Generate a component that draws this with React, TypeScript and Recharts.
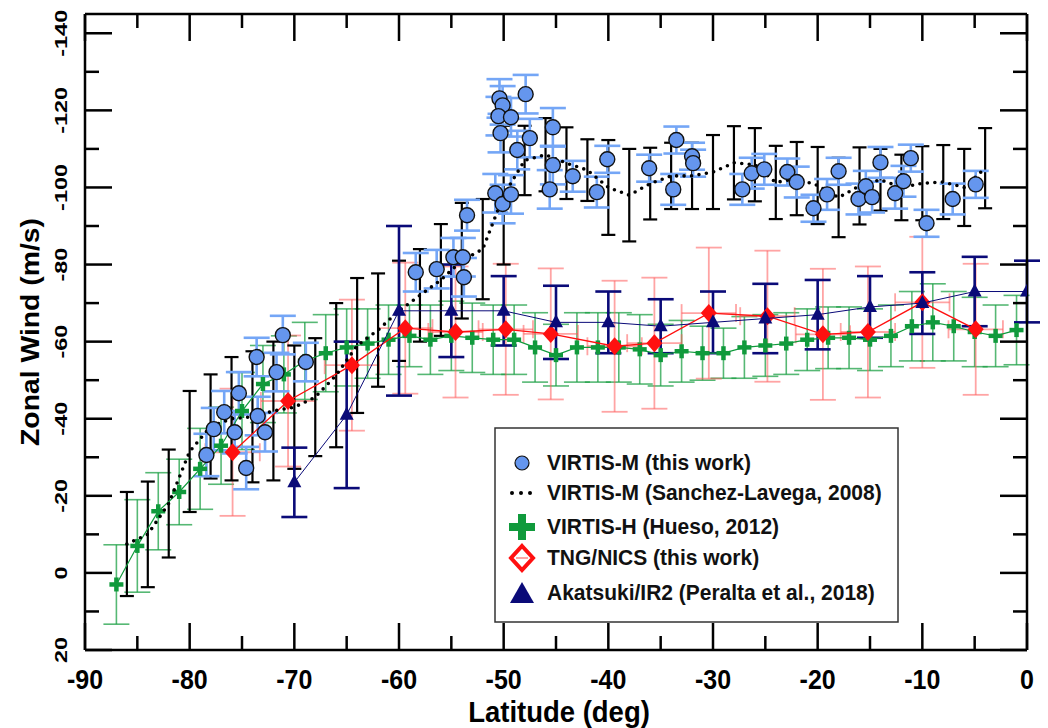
import React from "react";
import { ComposedChart, Scatter, XAxis, YAxis, ErrorBar } from "recharts";

const FONT = "'Liberation Sans', Arial, Helvetica, sans-serif";

// tick values
const latTicks = [-90, -85, -80, -75, -70, -65, -60, -55, -50, -45, -40, -35, -30, -25, -20, -15, -10, -5, 0];
const windTicks = [-140, -130, -120, -110, -100, -90, -80, -70, -60, -50, -40, -30, -20, -10, 0, 10, 20];

// VIRTIS-M (this work): [lat, wind, err]
const virtisM: [number, number, number][] = [
  [-78.4, -30.6, 5.5], [-77.7, -37.3, 5.5], [-76.7, -41.7, 5.5], [-75.3, -46.6, 5.5], [-75.7, -36.5, 5.5],
  [-74.6, -27.2, 5.5], [-73.6, -56, 5], [-73.5, -40.7, 5], [-72.8, -36.5, 5], [-71.7, -52.1, 5],
  [-71.1, -61.7, 5], [-68.9, -54.7, 5],
  [-58.4, -78, 5], [-56.4, -78.8, 5], [-54.8, -81.9, 5], [-53.9, -81.9, 5], [-53.8, -76.7, 5], [-53.5, -92.8, 4],
  [-50.8, -98.5, 5], [-50.1, -95.7, 5], [-49.3, -98.2, 5], [-50.4, -123.1, 5], [-50.1, -121.3, 5],
  [-50.5, -118.5, 5], [-49.3, -118.2, 5], [-50.3, -114.1, 5], [-47.9, -124.2, 5], [-47.5, -112.8, 5],
  [-48.7, -109.7, 5], [-45.3, -115.6, 5], [-45.3, -105.8, 5], [-45.6, -99.5, 5], [-43.4, -102.9, 4],
  [-41.1, -98.8, 4], [-40.1, -107.3, 3.5], [-36.1, -105, 3.5], [-33.8, -99.5, 4], [-33.5, -112.3, 3.5],
  [-32, -108.1, 3.5], [-31.9, -106.3, 3.5], [-27.2, -99.5, 4], [-26.3, -103.7, 4], [-25.1, -104.7, 4],
  [-22.9, -104, 3.5], [-22, -101.4, 4], [-20.4, -94.6, 3.5], [-19.1, -98.2, 4], [-18, -104.2, 3.5],
  [-16.1, -97, 4], [-15.4, -100.3, 4], [-14.8, -97.5, 4], [-14, -106.5, 4], [-12.6, -98.5, 4],
  [-11.8, -101.6, 4], [-11.1, -107.6, 3.5], [-9.6, -90.7, 3.5], [-7.1, -97, 4], [-4.9, -100.8, 3.5],
];

// VIRTIS-M (Sanchez-Lavega, 2008): [lat, wind, err]
const sanchezLavega: [number, number, number][] = [
  [-86, -7.5, 13.5], [-84, -10, 13.7], [-82, -18, 14], [-80, -31.5, 15.7], [-78, -38, 13.5],
  [-76, -40, 16], [-74, -40.5, 17], [-72, -42, 18], [-70, -43, 16], [-68, -45.6, 15.3],
  [-66, -51.3, 18.7], [-64, -59, 17.5], [-62, -63, 14.7], [-60, -68, 13], [-58, -72, 12],
  [-56, -76, 14.5], [-54, -81, 15], [-52, -84, 13], [-50, -98, 18], [-48, -107, 9],
  [-46, -108.5, 9.5], [-44, -106.3, 9.3], [-42, -104.5, 8], [-40, -100, 12.3], [-38, -98, 12],
  [-36, -101, 9.3], [-34, -103, 8.6], [-32, -103, 8.6], [-30, -104, 9.6], [-28, -106.4, 9.5],
  [-26, -105.9, 9.5], [-24, -101.3, 9.5], [-22, -102.3, 9.5], [-20, -100.5, 10], [-18, -97.4, 10.3],
  [-16, -100.4, 10], [-14, -102, 8], [-12, -100, 8.5], [-10, -101.1, 9.6], [-8, -101.4, 9.6],
  [-6, -100, 10], [-4, -105, 10.4],
];

// VIRTIS-H (Hueso, 2012): [lat, wind, err]
const hueso: [number, number, number][] = [
  [-87, 3, 10.3], [-85, -7, 12], [-83, -16, 10], [-81, -21, 8.5], [-79, -27, 10.5], [-77, -33, 10],
  [-75, -42, 10], [-73, -49, 10], [-71, -51.5, 10], [-69, -55, 10], [-67, -57, 10], [-65, -58.5, 10],
  [-63, -59.5, 9], [-61, -60.5, 9], [-59, -61.5, 8], [-57, -60.5, 9], [-55, -61.5, 9], [-53, -61, 9],
  [-51, -60.5, 9], [-49, -60.5, 9], [-47, -58.5, 9], [-45, -56.5, 8], [-43, -58.5, 9], [-41, -58.5, 9],
  [-39, -58.5, 9], [-37, -58, 9], [-35, -56.5, 8], [-33, -57.5, 8], [-31, -57, 7], [-29, -57, 6.5],
  [-27, -58.5, 8], [-25, -59, 8], [-23, -59.5, 8], [-21, -60.5, 8], [-19, -61, 8], [-17, -61, 8],
  [-15, -60.5, 8], [-13, -61.5, 8], [-11, -64, 9], [-9, -65, 10], [-7, -64, 9], [-5, -62.5, 9],
  [-3, -61.5, 8], [-1, -63, 9],
];

// TNG/NICS (this work): [lat, wind, windErr, latErr]
const tngNics: [number, number, number, number][] = [
  [-75.9, -31.3, 16.5, 2.6], [-70.6, -44.6, 17, 2.6], [-64.5, -53.9, 17, 2.6], [-59.4, -63.5, 17, 2.6],
  [-54.6, -62.5, 17, 2.6], [-49.8, -63.2, 17, 2.6], [-45.5, -62, 17, 2.6], [-39.4, -58.8, 17, 2.6],
  [-35.6, -59.6, 17, 2.6], [-30.4, -67.4, 17, 2.6], [-24.8, -66.6, 17, 2.6], [-19.5, -61.9, 17, 2.6],
  [-15.2, -62.5, 17, 2.6], [-10, -70.2, 17, 2.6], [-4.9, -63.2, 17, 2.6],
];

// Akatsuki/IR2 (Peralta et al., 2018): [lat, wind, err]
const akatsuki: [number, number, number][] = [
  [-70, -23.5, 9], [-65, -41, 19], [-60, -68, 22], [-55, -68, 12], [-50, -68, 9], [-45, -65, 9.5],
  [-40, -65, 8], [-35, -64, 7], [-30, -65, 8], [-25, -66, 9], [-20, -67, 9], [-15, -69, 8],
  [-10, -70, 8], [-5, -73, 9], [0, -73, 8],
];

const legendNames = [
  "VIRTIS-M (this work)",
  "VIRTIS-M (Sanchez-Lavega, 2008)",
  "VIRTIS-H (Hueso, 2012)",
  "TNG/NICS (this work)",
  "Akatsuki/IR2 (Peralta et al., 2018)",
];

const BLUE = "#6596ee";
const BLUE_BAR = "#74a6f6";
const GREEN = "#109a3c";
const GREEN_BAR = "rgba(30,160,70,0.75)";
const RED = "#ff1010";
const RED_BAR = "rgba(255,90,90,0.55)";
const NAVY = "#0a0a78";

const toRows = (arr: [number, number, number][]) => arr.map(([lat, wind, err]) => ({ lat, wind, err }));
const virtisMData = toRows(virtisM);
const sanchezData = toRows(sanchezLavega);
const huesoData = toRows(hueso);
const akatsukiData = toRows(akatsuki);
const tngData = tngNics.map(([lat, wind, err, xerr]) => ({ lat, wind, err, xerr }));

const BlueDot = (p: any) => <circle cx={p.cx} cy={p.cy} r={7.5} fill={BLUE} stroke="#111" strokeWidth={1.4} />;
const GreenPlus = (p: any) => (
  <g stroke={GREEN} strokeWidth={4.5}>
    <line x1={p.cx - 7} y1={p.cy} x2={p.cx + 7} y2={p.cy} />
    <line x1={p.cx} y1={p.cy - 7} x2={p.cx} y2={p.cy + 7} />
  </g>
);
const RedDiamond = (p: any) => (
  <polygon
    points={`${p.cx},${p.cy - 9} ${p.cx + 8},${p.cy} ${p.cx},${p.cy + 9} ${p.cx - 8},${p.cy}`}
    fill={RED}
  />
);
const NavyTriangle = (p: any) => (
  <polygon points={`${p.cx},${p.cy - 8} ${p.cx + 7},${p.cy + 5} ${p.cx - 7},${p.cy + 5}`} fill={NAVY} />
);
const NoDot = () => <g />;

const MAJOR = 27;
const MINOR = 14;

function makeTick(side: "bottom" | "top" | "left" | "right") {
  return (props: any) => {
    const { x, y, payload } = props;
    const v = payload.value;
    const horizontal = side === "bottom" || side === "top";
    const major = horizontal ? v % 10 === 0 : v % 20 === 0;
    const len = major ? MAJOR : MINOR;
    let line;
    if (side === "bottom") line = <line x1={x} y1={y} x2={x} y2={y - len} />;
    else if (side === "top") line = <line x1={x} y1={y} x2={x} y2={y + len} />;
    else if (side === "left") line = <line x1={x} y1={y} x2={x + len} y2={y} />;
    else line = <line x1={x} y1={y} x2={x - len} y2={y} />;
    return (
      <g>
        <g stroke="#000" strokeWidth={2.5}>{line}</g>
        {major && side === "bottom" && (
          <text
            transform={`translate(${x},${y + 39}) scale(1,1.1)`}
            textAnchor="middle"
            fontFamily={FONT}
            fontWeight="bold"
            fontSize={25}
            fill="#000"
          >
            {v}
          </text>
        )}
        {major && side === "left" && (
          <text
            transform={`translate(${x - 18},${y}) scale(1,1.38) rotate(-90)`}
            textAnchor="middle"
            fontFamily={FONT}
            fontWeight="bold"
            fontSize={17}
            fill="#000"
          >
            {v}
          </text>
        )}
      </g>
    );
  };
}

const axisLine = { stroke: "#000", strokeWidth: 2.5 };

export default function App() {
  const rowY = [463, 493, 527, 558, 593];
  return (
    <div style={{ position: "absolute", left: 0, top: 0, width: 1048, height: 728, background: "#fff" }}>
      <ComposedChart width={1048} height={728} margin={{ top: 13, right: 20, bottom: 77, left: 84 }}>
        <XAxis
          xAxisId="bottom"
          dataKey="lat"
          type="number"
          domain={[-90, 0]}
          ticks={latTicks}
          interval={0}
          allowDataOverflow
          height={1}
          tickSize={0}
          tickMargin={0}
          tickLine={false}
          axisLine={axisLine}
          tick={makeTick("bottom")}
        />
        <XAxis
          xAxisId="top"
          orientation="top"
          dataKey="lat"
          type="number"
          domain={[-90, 0]}
          ticks={latTicks}
          interval={0}
          allowDataOverflow
          height={1}
          tickSize={0}
          tickMargin={0}
          tickLine={false}
          axisLine={axisLine}
          tick={makeTick("top")}
        />
        <YAxis
          yAxisId="left"
          dataKey="wind"
          type="number"
          domain={[-145, 20]}
          reversed
          ticks={windTicks}
          interval={0}
          allowDataOverflow
          width={1}
          tickSize={0}
          tickMargin={0}
          tickLine={false}
          axisLine={axisLine}
          tick={makeTick("left")}
        />
        <YAxis
          yAxisId="right"
          orientation="right"
          dataKey="wind"
          type="number"
          domain={[-145, 20]}
          reversed
          ticks={windTicks}
          interval={0}
          allowDataOverflow
          width={1}
          tickSize={0}
          tickMargin={0}
          tickLine={false}
          axisLine={axisLine}
          tick={makeTick("right")}
        />

        <Scatter
          name="VIRTIS-H (Hueso, 2012)"
          data={huesoData}
          xAxisId="bottom"
          yAxisId="left"
          shape={GreenPlus}
          fill={GREEN}
          line={{ stroke: GREEN, strokeWidth: 1.2 }}
          isAnimationActive={false}
        >
          <ErrorBar dataKey="err" direction="y" width={13} stroke={GREEN_BAR} strokeWidth={1.6} />
        </Scatter>

        <Scatter
          name="TNG/NICS (this work)"
          data={tngData}
          xAxisId="bottom"
          yAxisId="left"
          shape={RedDiamond}
          fill={RED}
          line={{ stroke: RED, strokeWidth: 1.3 }}
          isAnimationActive={false}
        >
          <ErrorBar dataKey="err" direction="y" width={13} stroke={RED_BAR} strokeWidth={1.8} />
          <ErrorBar dataKey="xerr" direction="x" width={9} stroke={RED_BAR} strokeWidth={1.8} />
        </Scatter>

        <Scatter
          name="VIRTIS-M (Sanchez-Lavega, 2008)"
          data={sanchezData}
          xAxisId="bottom"
          yAxisId="left"
          shape={NoDot}
          fill="#000"
          line={{ stroke: "#000", strokeWidth: 3.6, strokeDasharray: "0 7.5", strokeLinecap: "round" }}
          isAnimationActive={false}
        >
          <ErrorBar dataKey="err" direction="y" width={7} stroke="#000" strokeWidth={2.2} />
        </Scatter>

        <Scatter
          name="Akatsuki/IR2 (Peralta et al., 2018)"
          data={akatsukiData}
          xAxisId="bottom"
          yAxisId="left"
          shape={NavyTriangle}
          fill={NAVY}
          line={{ stroke: NAVY, strokeWidth: 1 }}
          isAnimationActive={false}
        >
          <ErrorBar dataKey="err" direction="y" width={13} stroke={NAVY} strokeWidth={2.6} />
        </Scatter>

        <Scatter
          name="VIRTIS-M (this work)"
          data={virtisMData}
          xAxisId="bottom"
          yAxisId="left"
          shape={BlueDot}
          fill={BLUE}
          isAnimationActive={false}
        >
          <ErrorBar dataKey="err" direction="y" width={13} stroke={BLUE_BAR} strokeWidth={2.6} />
        </Scatter>
      </ComposedChart>

      <svg
        width={1048}
        height={728}
        style={{ position: "absolute", left: 0, top: 0, pointerEvents: "none" }}
        fontFamily={FONT}
        fontWeight="bold"
      >
        <text transform="translate(39,332) scale(1,1.09) rotate(-90)" textAnchor="middle" fontSize={26} fill="#000">
          Zonal Wind (m/s)
        </text>
        <text transform="translate(559,722) scale(1,1.1)" textAnchor="middle" fontSize={27.5} fill="#000">
          Latitude (deg)
        </text>

        <rect x={495} y={428} width={403} height={194} fill="#fff" stroke="#333" strokeWidth={1.5} />
        <circle cx={522} cy={rowY[0]} r={7} fill={BLUE} stroke="#111" strokeWidth={1.2} />
        <g fill="#000">
          <circle cx={512} cy={rowY[1]} r={2} />
          <circle cx={521} cy={rowY[1]} r={2} />
          <circle cx={530} cy={rowY[1]} r={2} />
        </g>
        <g stroke={GREEN} strokeWidth={8}>
          <line x1={509} y1={rowY[2]} x2={535} y2={rowY[2]} />
          <line x1={522} y1={rowY[2] - 13} x2={522} y2={rowY[2] + 13} />
        </g>
        <polygon
          points={`522,${rowY[3] - 12} 533,${rowY[3]} 522,${rowY[3] + 12} 511,${rowY[3]}`}
          fill="#fff"
          stroke={RED}
          strokeWidth={4}
        />
        <line x1={516} y1={rowY[3]} x2={528} y2={rowY[3]} stroke="#f88" strokeWidth={1.5} />
        <polygon points={`522,${rowY[4] - 11} 534,${rowY[4] + 10} 510,${rowY[4] + 10}`} fill={NAVY} />
        {legendNames.map((name, i) => (
          <text key={name} transform={`translate(547,${rowY[i] + 7}) scale(1,1.05)`} fontSize={21} fill="#111">
            {name}
          </text>
        ))}
      </svg>
    </div>
  );
}
